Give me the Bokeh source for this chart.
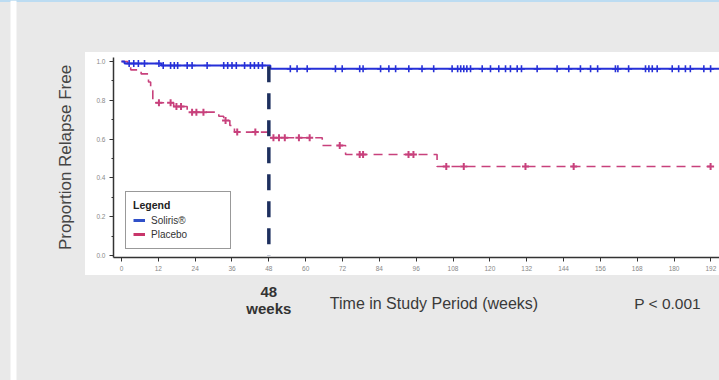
import numpy as np
from bokeh.plotting import figure
from bokeh.layouts import row, column
from bokeh.models import Range1d, BoxAnnotation, Label, Legend, LegendItem, FixedTicker
from bokeh.embed import file_html
from bokeh.resources import INLINE

# ---------------- data ----------------
soliris_times = [0, 1.0, 13.0, 48.5, 197]
soliris_surv = [1.0, 0.990, 0.979, 0.962, 0.962]
soliris_censor = [2.5, 4.0, 5.5, 7.5, 12.2, 13.6, 16.0, 17.2, 18.3, 21.4, 23.0, 27.9,
                  33.3, 34.6, 36.0, 37.4, 40.1, 42.0, 43.3, 44.6, 45.9, 55.0, 57.2, 60.5,
                  69.7, 71.9, 77.6, 78.7, 84.4, 87.1, 89.3, 93.6, 97.9, 101.7, 107.7, 109.5,
                  110.5, 111.5, 112.5, 113.7, 117.5, 120.2, 122.9, 125.1, 126.7, 128.9, 130.3,
                  135.4, 141.9, 145.7, 149.5, 152.8, 155.1, 160.9, 161.7, 165.2, 170.7, 171.8,
                  172.9, 174.5, 179.4, 181.5, 183.7, 185.3, 189.7, 191.9]

placebo_times = [0, 2.0, 3.0, 6.4, 8.8, 9.5, 10.2, 17.0, 21.4, 31.7, 33.3, 35.3, 36.8,
                 48.3, 65.4, 73.0, 102.8, 192]
placebo_surv = [1.0, 0.979, 0.957, 0.936, 0.894, 0.851, 0.787, 0.768, 0.739, 0.718, 0.696,
                0.670, 0.636, 0.607, 0.567, 0.521, 0.459, 0.459]
placebo_censor = [12.2, 16.0, 17.9, 19.4, 23.0, 24.4, 26.7, 33.9, 37.7, 43.6, 49.5, 51.3,
                  53.2, 57.8, 61.3, 71.1, 77.6, 78.7, 93.5, 95.1, 105.8, 111.5, 131.6, 147.3, 191.9]

milestone_week = 48
x_ticks = [0, 12, 24, 36, 48, 60, 72, 84, 96, 108, 120, 132, 144, 156, 168, 180, 192]
y_ticks = [0.0, 0.2, 0.4, 0.6, 0.8, 1.0]
y_tick_labels = ["0.0", "0.2", "0.4", "0.6", "0.8", "1.0"]
y_minor_ticks = [0.1, 0.3, 0.5, 0.7, 0.9]

series_names = ["Soliris®", "Placebo"]
p_value_text = "P < 0.001"
x_title = "Time in Study Period (weeks)"
y_title = "Proportion Relapse Free"

BLUE = "#2630d8"
PINK = "#c8417c"
NAVY = "#1d2f5e"
GRAY_BG = "#e9e9e9"
TOP_LINE = "#bcdcf2"
FONT = "Liberation Sans"

X_START, X_END = -2.6, 194.8


def km_value(times, surv, t):
    idx = np.searchsorted(np.array(times), np.array(t), side="right") - 1
    return list(np.array(surv)[idx])


def blank_fig(w, h, xr, yr, top_line=False):
    bg = (f"linear-gradient({TOP_LINE} 0px, {TOP_LINE} 2px, {GRAY_BG} 2px, {GRAY_BG} 100%)"
          if top_line else GRAY_BG)
    f = figure(width=w, height=h, x_range=xr, y_range=yr, x_axis_type=None, y_axis_type=None,
               output_backend="svg", toolbar_location=None, min_border=0,
               min_border_left=0, min_border_right=0, min_border_top=0, min_border_bottom=0,
               styles={"background": bg})
    f.background_fill_color = None
    f.border_fill_color = None
    f.outline_line_color = None
    return f


# ---------------- main chart (white panel) ----------------
p = figure(width=634, height=223, output_backend="svg", toolbar_location=None,
           x_range=Range1d(X_START, X_END), y_range=Range1d(-0.0103, 1.0206),
           min_border_left=28, min_border_right=0, min_border_top=5, min_border_bottom=18)
p.border_fill_color = "white"
p.background_fill_color = "white"
p.outline_line_color = None
p.grid.visible = False

r_pla = p.step(placebo_times, placebo_surv, mode="after", line_color=PINK, line_width=1.6,
               line_dash="9 6")
r_sol = p.step(soliris_times, soliris_surv, mode="after", line_color=BLUE, line_width=2)

p.scatter(soliris_censor, km_value(soliris_times, soliris_surv, soliris_censor), marker="cross",
          size=7, line_color=BLUE, line_width=1.6)
p.scatter(placebo_censor, km_value(placebo_times, placebo_surv, placebo_censor), marker="cross",
          size=7, line_color=PINK, line_width=2)

p.segment(x0=[milestone_week], y0=[0.975], x1=[milestone_week], y1=[0.0], line_color=NAVY,
          line_width=3.5, line_dash="16 11")

lp_sol = p.line([np.nan, np.nan], [np.nan, np.nan], line_color="#3050c8", line_width=3)
lp_pla = p.line([np.nan, np.nan], [np.nan, np.nan], line_color="#c8356a", line_width=3)
legend = Legend(items=[LegendItem(label=series_names[0], renderers=[lp_sol]),
                       LegendItem(label=series_names[1], renderers=[lp_pla])],
                title="Legend", location=(12, 8), orientation="vertical",
                border_line_color="#333333", border_line_width=1, background_fill_alpha=1.0,
                padding=7, margin=0, spacing=0, glyph_width=12, glyph_height=14,
                label_height=14, label_width=72, label_standoff=6, title_standoff=2,
                label_text_font=FONT, label_text_font_size="10px", label_text_color="#333333",
                title_text_font=FONT, title_text_font_size="10.5px",
                title_text_font_style="bold", title_text_color="#222222")
p.add_layout(legend)

for ax in (p.xaxis[0], p.yaxis[0]):
    ax.axis_line_color = "#333333"
    ax.axis_line_width = 1.5
    ax.major_tick_line_color = "#333333"
    ax.minor_tick_line_color = "#333333"
    ax.major_tick_in = 0
    ax.major_tick_out = 4
    ax.minor_tick_in = 0
    ax.minor_tick_out = 2
    ax.major_label_text_font = FONT
    ax.major_label_text_font_size = "6.5px"
    ax.major_label_text_color = "#888888"
    ax.major_label_standoff = 4
p.xaxis.ticker = FixedTicker(ticks=x_ticks, minor_ticks=[])
p.yaxis.ticker = FixedTicker(ticks=y_ticks, minor_ticks=y_minor_ticks)
p.yaxis.major_label_overrides = {t: s for t, s in zip(y_ticks, y_tick_labels)}

# ---------------- grey page surroundings ----------------
left = blank_fig(85, 380, Range1d(0, 85), Range1d(380, 0), top_line=True)
left.add_layout(BoxAnnotation(left=10, right=16, top=0, bottom=380, fill_color="white",
                              fill_alpha=1.0, line_color=None))
left.add_layout(Label(x=65, y=157, text=y_title, angle=np.pi / 2, text_font=FONT,
                      text_font_size="17px", text_color="#444444", text_align="center",
                      text_baseline="middle"))

top = blank_fig(634, 52, Range1d(0, 1), Range1d(0, 1), top_line=True)

# bottom strip: its plot area lines up with the chart's, so it shares the week scale
bottom = blank_fig(634, 105, Range1d(X_START, X_END), Range1d(380, 275))


def add_text(fig, x, y, text, size, style="normal", color="#333333"):
    fig.add_layout(Label(x=x, y=y, text=text, text_font=FONT, text_font_size=size,
                         text_font_style=style, text_color=color, text_align="center",
                         text_baseline="middle"))


add_text(bottom, milestone_week, 291, str(milestone_week), "15px", "bold", "#333333")
add_text(bottom, milestone_week, 308, "weeks", "15px", "bold", "#333333")
add_text(bottom, 101.8, 302.5, x_title, "16px", color="#3a3a3a")
add_text(bottom, 177.9, 302.5, p_value_text, "15.5px", color="#3a3a3a")

layout = row(left, column(top, p, bottom, spacing=0), spacing=0)
open("out.html", "w").write(file_html(layout, INLINE))
